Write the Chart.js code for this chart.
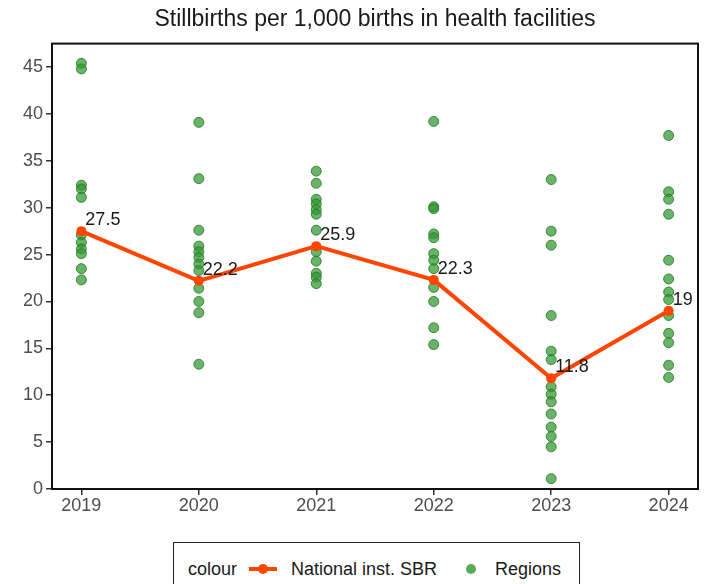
<!DOCTYPE html>
<html>
<head>
<meta charset="utf-8">
<script src="https://cdn.jsdelivr.net/npm/chart.js@4.4.1/dist/chart.umd.min.js"></script>
<style>
html,body{margin:0;padding:0;background:#fff;overflow:hidden}
#wrap{position:relative;width:711px;height:584px}
#legend{position:absolute;left:173px;top:542px;width:405px;height:60px;border:1.5px solid #222;background:#fff;font-family:'Liberation Sans',Arial,sans-serif;font-size:18px;color:#1a1a1a}
#legend span{position:absolute;top:15px;line-height:22px;white-space:nowrap}
#legend .line{position:absolute;left:75px;top:24px;width:28px;height:4px;background:#ff4500}
#legend .odot{position:absolute;left:84px;top:21px;width:10px;height:10px;border-radius:50%;background:#ff4500}
#legend .gdot{position:absolute;left:292px;top:21px;width:10px;height:10px;border-radius:50%;background:rgba(50,150,50,0.8)}
</style>
</head>
<body>
<div id="wrap">
<canvas id="sbrChart"></canvas>
<div id="legend">
<span style="left:14px">colour</span>
<div class="line"></div><div class="odot"></div>
<span style="left:117px">National inst. SBR</span>
<div class="gdot"></div>
<span style="left:321px">Regions</span>
</div>
</div>

<script>
/* ---------------- DATA ---------------- */

const years = [2019, 2020, 2021, 2022, 2023, 2024]
const nationalSBR = [27.5, 22.2, 25.9, 22.3, 11.8, 19]

const regions2019 = [45.4, 44.8, 32.4, 32.0, 31.1, 27.1, 26.3, 25.6, 25.1, 23.5, 22.3]
const regions2020 = [39.1, 33.1, 27.6, 25.9, 25.3, 24.7, 24.0, 23.3, 21.4, 20.0, 18.8, 13.3]
const regions2021 = [33.9, 32.6, 30.9, 30.4, 29.8, 29.3, 27.6, 25.3, 24.3, 23.0, 22.6, 21.9]
const regions2022 = [39.2, 30.1, 29.9, 27.2, 26.8, 25.1, 24.4, 23.5, 21.5, 20.0, 17.2, 15.4]
const regions2023 = [33.0, 27.5, 26.0, 18.5, 14.7, 13.8, 10.9, 10.1, 9.3, 8.0, 6.6, 5.6, 4.5, 1.1]
const regions2024 = [37.7, 31.7, 30.9, 29.3, 24.4, 22.4, 21.0, 20.2, 18.5, 16.6, 15.6, 13.2, 11.9]

const regionsByYear = [regions2019, regions2020, regions2021, regions2022, regions2023, regions2024]

let regionPoints = []
regionsByYear.forEach((vals, i) => {
vals.forEach(v => regionPoints.push({x: years[i], y: v}))
})

const nationalPoints = years.map((y, i) => ({x: y, y: nationalSBR[i]}))

/* ---------------- PLUGINS ---------------- */

// black panel frame like ggplot theme_bw
const framePlugin = {
id: "frame",
afterDatasetsDraw(chart){
const a = chart.chartArea
const c = chart.ctx
c.save()
c.strokeStyle = "#111"
c.lineWidth = 2
c.strokeRect(a.left, a.top, a.right - a.left, a.bottom - a.top)
c.restore()
}
}

// value labels next to the national points
const valueLabels = {
id: "valueLabels",
afterDatasetsDraw(chart){
const meta = chart.getDatasetMeta(0)
const c = chart.ctx
c.save()
c.font = "18px 'Liberation Sans', Arial, sans-serif"
c.fillStyle = "#1a1a1a"
c.textAlign = "left"
c.textBaseline = "middle"
meta.data.forEach((pt, i) => {
c.fillText(String(nationalSBR[i]), pt.x + 4, pt.y - 11)
})
c.restore()
}
}

/* ---------------- CHART ---------------- */

Chart.defaults.font.family = "'Liberation Sans', Arial, sans-serif"

const ctx = document.getElementById("sbrChart").getContext("2d")

new Chart(ctx, {
data: {
datasets: [
{
type: "line",
label: "National inst. SBR",
data: nationalPoints,
borderColor: "#ff4500",
backgroundColor: "#ff4500",
borderWidth: 4,
pointRadius: 5,
pointBorderWidth: 0,
tension: 0,
order: 0
},
{
type: "scatter",
label: "Regions",
data: regionPoints,
backgroundColor: "rgba(50,150,50,0.72)",
borderColor: "rgba(30,120,30,0.8)",
borderWidth: 1,
pointRadius: 5,
order: 1
}
]
},
options: {
responsive: true,
maintainAspectRatio: false,
animation: false,
layout: {padding: {top: 0, right: 13, bottom: 55, left: 0}},
plugins: {
legend: {display: false},
tooltip: {enabled: false},
title: {
display: true,
text: "Stillbirths per 1,000 births in health facilities",
fullSize: false,
color: "#1a1a1a",
font: {size: 23, weight: "normal"},
padding: {top: 6, bottom: 10}
}
},
scales: {
x: {
type: "linear",
min: 2018.75,
max: 2024.25,
afterBuildTicks: s => { s.ticks = years.map(v => ({value: v})) },
afterFit: s => { s.height = 40 },
border: {display: false},
grid: {drawOnChartArea: false, drawTicks: true, tickLength: 6, color: "#333", lineWidth: 1.5},
ticks: {color: "#4d4d4d", font: {size: 18}, padding: 0, maxRotation: 0, callback: v => String(v)}
},
y: {
min: 0,
max: 47.5,
afterFit: s => { s.width = 52 },
border: {display: false},
grid: {drawOnChartArea: false, drawTicks: true, tickLength: 6, color: "#333", lineWidth: 1.5},
ticks: {color: "#4d4d4d", font: {size: 18}, padding: 3, stepSize: 5, includeBounds: false}
}
}
},
plugins: [framePlugin, valueLabels]
})
</script>
</body>
</html>
